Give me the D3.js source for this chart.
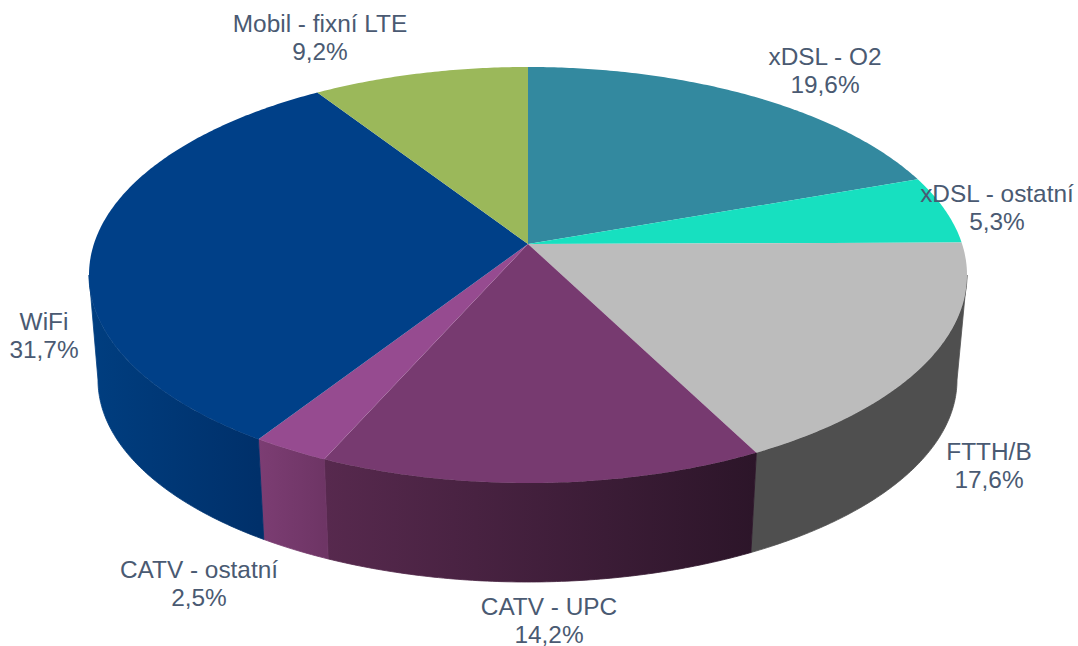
<!DOCTYPE html>
<html>
<head>
<meta charset="utf-8">
<script src="https://cdn.jsdelivr.net/npm/d3@7"></script>
<style>
    html, body { margin: 0; padding: 0; background: #fff; }
    svg { display: block; }
    text { font-family: "Liberation Sans", Arial, sans-serif; font-size: 24.4px; fill: #4a5a72; text-anchor: middle; }
</style>
</head>
<body>
<div id="chart"></div>
<script>
const categories = ["xDSL - O2", "xDSL - ostatní", "FTTH/B", "CATV - UPC", "CATV - ostatní", "WiFi", "Mobil - fixní LTE"];
const shares = [19.6, 5.3, 17.6, 14.2, 2.5, 31.7, 9.2];
const shareLabels = ["19,6%", "5,3%", "17,6%", "14,2%", "2,5%", "31,7%", "9,2%"];

const topColors = ["#33899f", "#17e0c0", "#bcbcbc", "#773a70", "#964b90", "#004088", "#9bb85a"];
const wallFrom = ["#33899f", "#17e0c0", "#4f4f4f", "#57294e", "#7c3d73", "#003e80", "#9bb85a"];
const wallTo = ["#33899f", "#17e0c0", "#4f4f4f", "#2c1529", "#6e3565", "#00306a", "#9bb85a"];

// label anchor (centre x, first baseline y)
const labelX = [825, 997, 989, 549, 199, 44, 320];
const labelY = [65, 202, 460, 615, 578, 330, 32];

const width = 1078, height = 646;

// perspective tilt of the disc: pie centre sits above the centre of the outline
const tilt = -0.149;

const xTop = d3.scaleLinear().domain([-1, 1]).range([89, 967]);
const yTop = d3.scaleLinear().domain([-1, 1]).range([67, 483]);
const xBottom = d3.scaleLinear().domain([-1, 1]).range([98, 957]);
const yBottom = d3.scaleLinear().domain([-1, 1]).range([178, 582]);

// unit disc angle (0 = top, clockwise) to tilted disc coordinates
function project(a) {
    const u = Math.sin(a), v = -Math.cos(a);
    const w = 1 + tilt * v;
    return [u * Math.sqrt(1 - tilt * tilt) / w, (v + tilt) / w];
}

const topPoint = a => { const p = project(a); return [xTop(p[0]), yTop(p[1])]; };
const bottomPoint = a => { const p = project(a); return [xBottom(p[0]), yBottom(p[1])]; };

function samples(a0, a1) {
    const n = Math.max(2, Math.ceil((a1 - a0) / 0.01));
    return d3.range(n + 1).map(i => a0 + (a1 - a0) * i / n);
}

const svg = d3.select("#chart").append("svg").attr("width", width).attr("height", height);
const defs = svg.append("defs");
const line = d3.line();

const arcs = d3.pie().sort(null).startAngle(0).endAngle(2 * Math.PI)(shares);

// side wall only shows between the two tangent points of the outline
const wallStart = Math.acos(tilt);
const wallEnd = 2 * Math.PI - wallStart;

arcs.forEach((d, i) => {
    const a0 = Math.max(d.startAngle, wallStart);
    const a1 = Math.min(d.endAngle, wallEnd);
    if (a1 <= a0) return;

    const x0 = topPoint(a0)[0], x1 = topPoint(a1)[0];
    const grad = defs.append("linearGradient")
        .attr("id", "wall" + i)
        .attr("gradientUnits", "userSpaceOnUse")
        .attr("x1", Math.min(x0, x1)).attr("y1", 0)
        .attr("x2", Math.max(x0, x1)).attr("y2", 0);
    grad.append("stop").attr("offset", 0).attr("stop-color", wallFrom[i]);
    grad.append("stop").attr("offset", 1).attr("stop-color", wallTo[i]);

    const angles = samples(a0, a1);
    const pts = angles.map(topPoint).concat(angles.slice().reverse().map(bottomPoint));
    svg.append("path")
        .attr("class", "wall")
        .attr("d", line(pts) + "Z")
        .attr("fill", `url(#wall${i})`)
        .attr("stroke", `url(#wall${i})`)
        .attr("stroke-width", 0.8);
});

arcs.forEach((d, i) => {
    const pts = [[xTop(0), yTop(tilt)]].concat(samples(d.startAngle, d.endAngle).map(topPoint));
    svg.append("path")
        .attr("class", "slice")
        .attr("d", line(pts) + "Z")
        .attr("fill", topColors[i]);
});

categories.forEach((c, i) => {
    const t = svg.append("text").attr("x", labelX[i]).attr("y", labelY[i]);
    t.append("tspan").attr("x", labelX[i]).text(c);
    t.append("tspan").attr("x", labelX[i]).attr("dy", 27.5).text(shareLabels[i]);
});
</script>
</body>
</html>
